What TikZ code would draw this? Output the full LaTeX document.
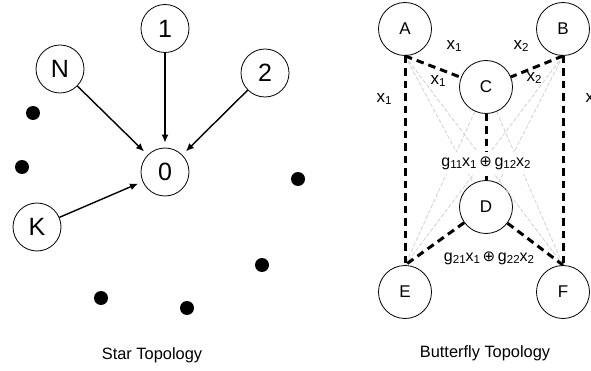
\documentclass[tikz,border=0pt]{standalone}
\usepackage{fontspec}
\setmainfont{Liberation Sans}
\newfontfamily\symfont{DejaVu Sans}
\usetikzlibrary{arrows.meta}
\newcommand{\sbs}[1]{\raisebox{-0.3ex}{\fontsize{11.5}{12}\selectfont #1}}
\newcommand{\xorsym}{\,{\symfont\fontsize{15}{16}\selectfont ⊕}\,}
\begin{document}
\begin{tikzpicture}[x=1pt,y=-1pt,
  snode/.style={circle,draw,line width=0.8pt,minimum size=48pt,inner sep=0pt,font=\fontsize{25}{27}\selectfont},
  bnode/.style={circle,draw,line width=0.8pt,minimum size=53pt,inner sep=0pt,font=\fontsize{17}{19}\selectfont},
  blackdot/.style={circle,fill=black,minimum size=14pt,inner sep=0pt},
  arr/.style={-{Latex[length=8pt,width=7pt]},line width=1.4pt,shorten >=5pt},
  bdash/.style={line width=3pt,dash pattern=on 7.5pt off 5pt},
  gdash/.style={draw=black!18,line width=0.8pt,dash pattern=on 4pt off 2pt},
  lbl/.style={font=\fontsize{17}{18}\selectfont,inner sep=1pt},
  glbl/.style={font=\fontsize{16}{18}\selectfont,inner sep=1pt},
  captxt/.style={font=\fontsize{16.4}{18}\selectfont}]
\useasboundingbox (0,0) rectangle (591,371);

% ---- Star topology ----
\node[snode] (n1) at (165,28.5) {1};
\node[snode] (nN) at (60,69) {N};
\node[snode] (n2) at (265,73) {2};
\node[snode] (n0) at (165,172) {0};
\node[snode] (nK) at (37,227) {K};
\draw[arr] (nN) -- (n0);
\draw[arr] (n1) -- (n0);
\draw[arr] (n2) -- (n0);
\draw[arr] (nK) -- (n0);
\node[blackdot] (d1) at (33,113) {};
\node[blackdot] (d2) at (22,167) {};
\node[blackdot] (d3) at (298,179) {};
\node[blackdot] (d4) at (262,265) {};
\node[blackdot] (d5) at (101,298) {};
\node[blackdot] (d6) at (187,308) {};
\node[captxt] (scap) at (152,355) {Star Topology};

% ---- Butterfly topology ----
\node[bnode] (A) at (405,29) {A};
\node[bnode] (B) at (563,29) {B};
\node[bnode] (C) at (486,87) {C};
\node[bnode] (D) at (486,207) {D};
\node[bnode] (E) at (405,292) {E};
\node[bnode] (F) at (563,292) {F};

% gray overhearing links
\draw[gdash] (A.south) -- (D);
\draw[gdash] (A.south) -- (F.north);
\draw[gdash] (B.south) -- (D);
\draw[gdash] (B.south) -- (E.north);
\draw[gdash] (C) -- (E.north);
\draw[gdash] (C) -- (F.north);

% black dashed links
\draw[bdash] (A.south) -- (C);
\draw[bdash] (B.south) -- (C);
\draw[bdash] (A.south) -- (E.north);
\draw[bdash] (B.south) -- (F.north);
\draw[bdash] (C) -- (D);
\draw[bdash] (D) -- (E.north);
\draw[bdash] (D) -- (F.north);

% labels
\node[lbl] (l1) at (454,46) {x\sbs{1}};
\node[lbl] (l2) at (521,46) {x\sbs{2}};
\node[lbl] (l3) at (438,81) {x\sbs{1}};
\node[lbl] (l4) at (534,78) {x\sbs{2}};
\node[lbl] (l5) at (384,99) {x\sbs{1}};
\node[lbl] (l6) at (593,99) {x\sbs{2}};
\node[glbl,fill=white,inner sep=5pt] (g1) at (486,163) {g\sbs{11}x\sbs{1}\xorsym g\sbs{12}x\sbs{2}};
\node[glbl] (g2) at (489,258) {g\sbs{21}x\sbs{1}\xorsym g\sbs{22}x\sbs{2}};
\node[captxt] (bcap) at (485,353) {Butterfly Topology};
\end{tikzpicture}
\end{document}
